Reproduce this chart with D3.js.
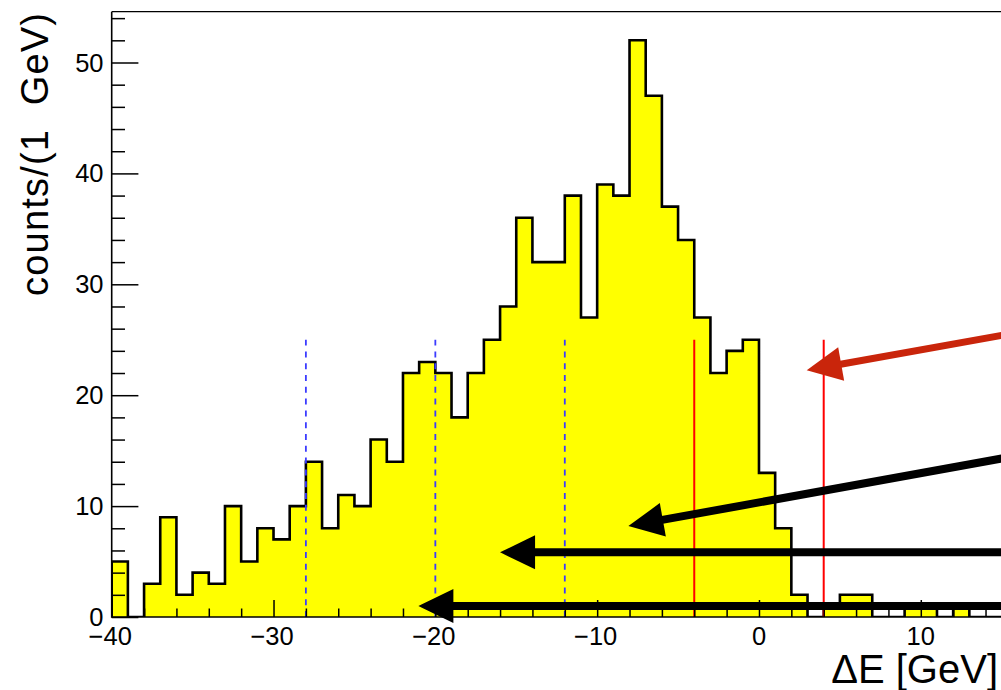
<!DOCTYPE html>
<html>
<head>
<meta charset="utf-8">
<script src="https://cdn.jsdelivr.net/npm/d3@7"></script>
<style>
  html, body { margin: 0; padding: 0; background: #fff; overflow: hidden; }
  svg { display: block; font-family: "Liberation Sans", Arial, Helvetica, sans-serif; }
</style>
</head>
<body>
<svg id="chart" width="1001" height="690"></svg>
<script>
// ---- data ----
const binLow = d3.range(-40, 15, 1);               // bin lower edges, 1 GeV bins
const counts = [5, 0, 3, 9, 2, 4, 3, 10, 5, 8,
                7, 10, 14, 8, 11, 10, 16, 14, 22, 23,
                22, 18, 22, 25, 28, 36, 32, 32, 38, 27,
                39, 38, 52, 47, 37, 34, 27, 22, 24, 25,
                13, 8, 2, 0, 1, 2, 2, 0, 0, 1,
                1, 0, 1, 0, 0];
const xTickLabels = [-40, -30, -20, -10, 0, 10];
const yTickLabels = [0, 10, 20, 30, 40, 50];
const redCuts = [-4, 4];
const blueCuts = [-28, -20, -12];
const cutHeight = 25;
// arrows (data units): from (x1,y1) to tip (x2,y2)
const arrows = [
  { x1: 25, y1: 28.0, x2: 2.95, y2: 22.25, color: "#c9250b", w: 7 },
  { x1: 25, y1: 16.93, x2: -8.07, y2: 8.2, color: "#000", w: 8 },
  { x1: 25, y1: 5.83, x2: -16.0, y2: 5.83, color: "#000", w: 8 },
  { x1: 25, y1: 1.0, x2: -21.05, y2: 1.0, color: "#000", w: 8 }
];

// ---- layout ----
const svg = d3.select("#chart");
const padL = 111.7, padB = 617, padT = 11.7;
const pxPerGeV = 16.182, pxPerCount = 11.09;
const x = d3.scaleLinear().domain([-40, 15]).range([padL, padL + 55 * pxPerGeV]);
const y = d3.scaleLinear().domain([0, (padB - padT) / pxPerCount]).range([padB, padT]);

svg.append("defs").append("clipPath").attr("id", "plot")
  .append("rect").attr("x", padL).attr("y", padT).attr("width", 2000).attr("height", padB - padT);

const g = svg.append("g").attr("clip-path", "url(#plot)");

// histogram
const pts = binLow.map((lo, i) => [lo, counts[i]]);
pts.push([15, counts[counts.length - 1]]);
const area = d3.area().x(d => x(d[0])).y0(y(0)).y1(d => y(d[1])).curve(d3.curveStepAfter);
g.append("path").attr("d", area(pts)).attr("fill", "#ffff00");
const line = d3.line().x(d => x(d[0])).y(d => y(d[1])).curve(d3.curveStepAfter);
g.append("path").attr("d", line([[-40, 0]].concat(pts)))
  .attr("fill", "none").attr("stroke", "#000").attr("stroke-width", 2.6)
  .attr("stroke-linejoin", "miter");

// cut lines
g.selectAll(".blue").data(blueCuts).enter().append("line")
  .attr("x1", d => x(d)).attr("x2", d => x(d))
  .attr("y1", y(0)).attr("y2", y(cutHeight))
  .attr("stroke", "#3c3cff").attr("stroke-width", 1.8).attr("stroke-dasharray", "6,5.8");
g.selectAll(".red").data(redCuts).enter().append("line")
  .attr("x1", d => x(d)).attr("x2", d => x(d))
  .attr("y1", y(0)).attr("y2", y(cutHeight))
  .attr("stroke", "#ff0000").attr("stroke-width", 2);

// axes
const axisG = svg.append("g");
axisG.append("line").attr("x1", padL).attr("x2", 1001).attr("y1", padT).attr("y2", padT)
  .attr("stroke", "#000").attr("stroke-width", 1.3);

const yAxis = d3.axisRight(y).tickValues(d3.range(0, 55, 2)).tickSize(0).tickFormat("");
const yA = axisG.append("g").attr("transform", `translate(${padL},0)`).call(yAxis);
yA.select(".domain").remove();
yA.selectAll(".tick line").attr("x2", d => d % 10 === 0 ? 26.7 : 13.3)
  .attr("stroke", "#000").attr("stroke-width", 1.5);

const xAxis = d3.axisTop(x).tickValues(d3.range(-40, 16, 2)).tickSize(0).tickFormat("");
const xA = axisG.append("g").attr("transform", `translate(0,${padB})`).call(xAxis);
xA.select(".domain").remove();
xA.selectAll(".tick line").attr("y2", d => d % 10 === 0 ? -17 : -8.5)
  .attr("stroke", "#000").attr("stroke-width", 1.5);

axisG.append("line").attr("x1", padL).attr("x2", padL).attr("y1", padB + 0.7).attr("y2", padT)
  .attr("stroke", "#000").attr("stroke-width", 1.6);
axisG.append("line").attr("x1", padL).attr("x2", 1001).attr("y1", padB).attr("y2", padB)
  .attr("stroke", "#000").attr("stroke-width", 1.6);

// tick labels
svg.selectAll(".ylab").data(yTickLabels).enter().append("text")
  .attr("x", 103.5).attr("y", d => y(d) + 9)
  .attr("text-anchor", "end").attr("font-size", 25.5).attr("fill", "#000")
  .text(d => d);
svg.selectAll(".xlab").data(xTickLabels).enter().append("text")
  .attr("x", d => x(d) - (d < 0 ? 1.5 : 0)).attr("y", 645)
  .attr("text-anchor", "middle").attr("font-size", 25.5).attr("fill", "#000")
  .text(d => d < 0 ? "\u2212" + Math.abs(d) : d);

// axis titles
svg.append("text").attr("transform", "translate(48,13) rotate(-90)")
  .attr("text-anchor", "end").attr("font-size", 38).attr("fill", "#000")
  .attr("xml:space", "preserve").style("white-space", "pre")
  .attr("textLength", 283).attr("lengthAdjust", "spacing")
  .text("counts/(1  GeV)");
svg.append("text").attr("x", 998).attr("y", 683)
  .attr("text-anchor", "end").attr("font-size", 40).attr("fill", "#000")
  .text("\u0394E [GeV]");

// arrows (on top)
const headLen = 35, headHalf = 17;
arrows.forEach(a => {
  const sx = x(a.x1), sy = y(a.y1), tx = x(a.x2), ty = y(a.y2);
  const dx = tx - sx, dy = ty - sy, L = Math.hypot(dx, dy);
  const ux = dx / L, uy = dy / L;
  const bx = tx - ux * headLen, by = ty - uy * headLen;
  svg.append("line").attr("x1", sx).attr("y1", sy).attr("x2", bx + ux * 2).attr("y2", by + uy * 2)
    .attr("stroke", a.color).attr("stroke-width", a.w);
  const head = [[tx, ty], [bx - uy * headHalf, by + ux * headHalf], [bx + uy * headHalf, by - ux * headHalf]];
  svg.append("path").attr("d", d3.line()(head) + "Z").attr("fill", a.color);
});
</script>
</body>
</html>
